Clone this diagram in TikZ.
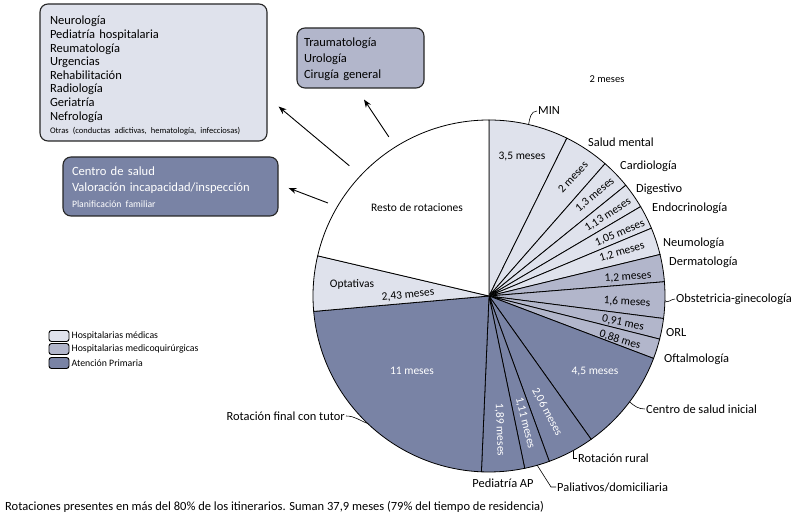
\documentclass[tikz,border=0pt]{standalone}
\usepackage{fontspec}
\setmainfont{Carlito}
\usepackage{tikz}
\usetikzlibrary{arrows.meta}

\definecolor{hmed}{RGB}{223,226,236}
\definecolor{hmq}{RGB}{178,182,203}
\definecolor{aprim}{RGB}{121,131,165}

\tikzset{
  lab/.style={font=\fontsize{12.4}{14}\selectfont, inner sep=1pt},
  val/.style={font=\fontsize{11.5}{13}\selectfont, inner sep=0pt},
  valw/.style={val, text=white},
  grupo/.style={draw=black!85, line width=1.1pt, rounded corners=8pt, align=left, inner ysep=2pt},
  muestra/.style={draw=black, line width=0.9pt, rounded corners=2.5pt, minimum width=20pt, minimum height=11pt, inner sep=0pt},
  guia/.style={line width=0.6pt},
  flecha/.style={line width=0.9pt, ->, >={Stealth[length=8pt,width=6pt]}},
}

\begin{document}
\begin{tikzpicture}[x=1pt,y=1pt]
    \useasboundingbox (0,0) rectangle (799,519);
    \coordinate (C) at (489,223);
    % sectores
    \foreach \a/\b/\c in {90/63.75/hmed, 63.75/48.75/hmed, 48.75/39/hmed, 39/30.525/hmed,
        30.525/22.65/hmed, 22.65/13.65/hmed, 13.65/4.65/hmq, 4.65/-7.35/hmq,
        -7.35/-14.175/hmq, -14.175/-20.775/hmq, -20.775/-54.525/aprim, -54.525/-69.975/aprim,
        -69.975/-78.3/aprim, -78.3/-92.475/aprim, -92.475/-174.975/aprim,
        -174.975/-193.2/hmed, -193.2/-270/white}
        \filldraw[fill=\c, draw=black, line width=0.8pt] (C) -- ++(\a:176) arc[start angle=\a, end angle=\b, radius=176] -- cycle;
    % valores
    \node[val] (resto) at (417,311) {Resto de rotaciones};
    \node[val] at (522,362) {3,5 meses};
    \node[val, rotate=47] at (573,342) {2 meses};
    \node[val, rotate=40] at (595,324) {1,3 meses};
    \node[val, rotate=33] at (608,304) {1,13 meses};
    \node[val, rotate=23] at (620,286) {1,05 meses};
    \node[val, rotate=17] at (622,267) {1,2 meses};
    \node[val, rotate=4] at (628,242) {1,2 meses};
    \node[val, rotate=-3] at (627,217) {1,6 meses};
    \node[val, rotate=-11] at (623,196) {0,91 mes};
    \node[val, rotate=-17] at (620,179) {0,88 mes};
    \node[valw] at (595,147) {4,5 meses};
    \node[valw, rotate=-62] at (547,107) {2,06 meses};
    \node[valw, rotate=-76] at (525,96) {1,11 meses};
    \node[valw, rotate=-88] at (500,89) {1,89 meses};
    \node[valw] at (412,148) {11 meses};
    \node[val] at (352,235) {Optativas};
    \node[val, rotate=6] at (408,224) {2,43 meses};
    \node[val, font=\fontsize{10.5}{12}\selectfont] at (607,440) {2 meses};
    % etiquetas exteriores
    \node[lab, anchor=west] (min) at (537,408) {MIN};
    \node[lab, anchor=west] at (587,377) {Salud mental};
    \node[lab, anchor=west] at (619,353) {Cardiología};
    \node[lab, anchor=west] at (635,330) {Digestivo};
    \node[lab, anchor=west] at (651,311) {Endocrinología};
    \node[lab, anchor=west] at (662,276) {Neumología};
    \node[lab, anchor=west] at (668,257) {Dermatología};
    \node[lab, anchor=west] (obst) at (675,220) {Obstetricia-ginecología};
    \node[lab, anchor=west] at (665,186) {ORL};
    \node[lab, anchor=west] at (663,160) {Oftalmología};
    \node[lab, anchor=west] (csi) at (645,110) {Centro de salud inicial};
    \node[lab, anchor=west] (rural) at (577,61) {Rotación rural};
    \node[lab, anchor=west] (pal) at (556,32) {Paliativos/domiciliaria};
    \node[lab] at (503,36) {Pediatría AP};
    \node[lab, anchor=east] (final) at (346,103) {Rotación final con tutor};
    % guias
    \path (C) ++(77:176) coordinate (pmin);
    \path (C) ++(-1.5:176) coordinate (pobst);
    \path (C) ++(-37:176) coordinate (pcsi);
    \path (C) ++(-61.5:176) coordinate (prural);
    \path (C) ++(-74.1:176) coordinate (ppal);
    \path (C) ++(-133.6:176) coordinate (pfinal);
    \draw[guia] (pmin) to[out=80,in=180] (min.west);
    \draw[guia] (pobst) to[out=-60,in=180] (obst.west);
    \draw[guia] (pcsi) to[out=-40,in=180] (csi.west);
    \draw[guia] (prural) |- (rural.west);
    \draw[guia] (ppal) -- ([xshift=-5pt]pal.west) -- (pal.west);
    \draw[guia] (final.east) to[out=0,in=160] (pfinal);
    % grupos
    \node[grupo, fill=hmed, minimum width=227pt, minimum height=137pt, text width=207pt, inner xsep=10pt,
        font=\fontsize{12.5}{13.6}\selectfont] (otras) at (153.5,446.5)
        {\rule{0pt}{15pt}Neurología\\Pediatría hospitalaria\\Reumatología\\Urgencias\\Rehabilitación\\Radiología\\Geriatría\\Nefrología\\
        {\fontsize{8.5}{10}\selectfont Otras (conductas adictivas, hematología, infecciosas)}};
    \node[grupo, fill=hmq, minimum width=127pt, minimum height=60pt, text width=113pt, inner xsep=7pt,
        font=\fontsize{12.5}{15.6}\selectfont] (cirug) at (360.5,461)
        {\rule{0pt}{11pt}Traumatología\\Urología\\Cirugía general};
    \node[grupo, fill=aprim, text=white, minimum width=215pt, minimum height=59pt, text width=197pt, inner xsep=9pt,
        font=\fontsize{12.6}{16}\selectfont] (prim) at (170.5,332.5)
        {\rule{0pt}{11pt}Centro de salud\\Valoración incapacidad/inspección\\{\fontsize{9.7}{10}\selectfont Planificación familiar}};
    % flechas
    \path (C) ++(137:191) coordinate (a1);
    \path (C) ++(122.2:188) coordinate (a2);
    \path (C) ++(150:186) coordinate (a3);
    \draw[flecha] (a1) -- ([shift={(11,35)}]otras.south east);
    \draw[flecha] (a2) -- ([shift={(3.5,-11)}]cirug.south);
    \draw[flecha] (a3) -- ([shift={(10,-1.5)}]prim.east);
    % leyenda
    \node[muestra, fill=hmed] (l1) at (59,183) {};
    \node[muestra, fill=hmq] (l2) at (59,170) {};
    \node[muestra, fill=aprim] (l3) at (59,156) {};
    \foreach \n/\t in {l1/Hospitalarias médicas, l2/Hospitalarias medicoquirúrgicas, l3/Atención Primaria}
        \node[anchor=west, inner sep=2pt, font=\fontsize{9.8}{11}\selectfont] at (\n.east) {\t};
    \node[lab, anchor=west, font=\fontsize{12.5}{14}\selectfont] (pie) at (4,12) {Rotaciones presentes en más del 80\% de los itinerarios. Suman 37,9 meses (79\% del tiempo de residencia)};
\end{tikzpicture}
\end{document}
